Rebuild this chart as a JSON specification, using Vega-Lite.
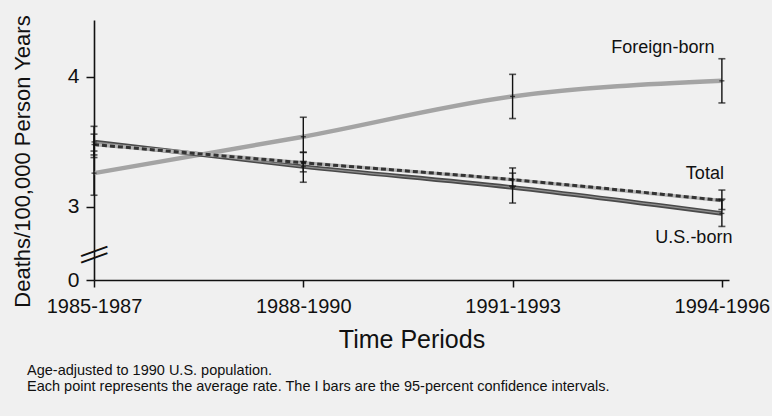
{
  "$schema": "https://vega.github.io/schema/vega-lite/v6.json",
  "width": 635,
  "height": 260,
  "autosize": "none",
  "padding": {"left": 94, "top": 20, "right": 43, "bottom": 136},
  "background": "#f0f0f0",
  "config": {
    "view": {"stroke": null},
    "font": "Liberation Sans",
    "axis": {"domainColor": "#111", "domainWidth": 1.6, "tickColor": "#111", "tickWidth": 1.5, "labelColor": "#111", "titleColor": "#111", "labelFont": "Liberation Sans", "titleFont": "Liberation Sans", "titleFontWeight": "normal", "grid": false}
  },
  "datasets": {
    "pts": [
      {"period": "1985-1987", "group": "Foreign-born", "rate": 3.26, "lo": 3.09, "hi": 3.43},
      {"period": "1988-1990", "group": "Foreign-born", "rate": 3.54, "lo": 3.42, "hi": 3.69},
      {"period": "1991-1993", "group": "Foreign-born", "rate": 3.85, "lo": 3.68, "hi": 4.02},
      {"period": "1994-1996", "group": "Foreign-born", "rate": 3.97, "lo": 3.80, "hi": 4.14},
      {"period": "1985-1987", "group": "U.S.-born", "rate": 3.50, "lo": 3.38, "hi": 3.62},
      {"period": "1988-1990", "group": "U.S.-born", "rate": 3.31, "lo": 3.19, "hi": 3.42},
      {"period": "1991-1993", "group": "U.S.-born", "rate": 3.15, "lo": 3.03, "hi": 3.30},
      {"period": "1994-1996", "group": "U.S.-born", "rate": 2.95, "lo": 2.85, "hi": 3.06},
      {"period": "1985-1987", "group": "Total", "rate": 3.48, "lo": 3.40, "hi": 3.56},
      {"period": "1988-1990", "group": "Total", "rate": 3.34, "lo": 3.27, "hi": 3.35},
      {"period": "1991-1993", "group": "Total", "rate": 3.21, "lo": 3.16, "hi": 3.26},
      {"period": "1994-1996", "group": "Total", "rate": 3.05, "lo": 2.98, "hi": 3.13}
    ],
    "labels": [
      {"period": "1994-1996", "label": "Foreign-born", "rate": 4.22, "shift": -59},
      {"period": "1994-1996", "label": "Total", "rate": 3.25, "shift": -17},
      {"period": "1994-1996", "label": "U.S.-born", "rate": 2.76, "shift": -28}
    ],
    "brk": [
      {"period": "1985-1987", "rate": 2.665},
      {"period": "1985-1987", "rate": 2.615}
    ]
  },
  "title": {
    "text": ["Age-adjusted to 1990 U.S. population.", "Each point represents the average rate. The I bars are the 95-percent confidence intervals."],
    "orient": "bottom",
    "anchor": "start",
    "frame": "group",
    "fontSize": 14.5,
    "fontWeight": "normal",
    "font": "Liberation Sans",
    "color": "#111",
    "lineHeight": 16,
    "dx": -67,
    "offset": 12
  },
  "encoding": {
    "x": {
      "field": "period",
      "type": "ordinal",
      "scale": {"type": "point", "padding": 0.017, "align": 0},
      "axis": {"title": "Time Periods", "labelAngle": 0, "labelFontSize": 20, "titleFontSize": 25, "tickSize": 7, "labelPadding": 9, "titlePadding": 11}
    }
  },
  "layer": [
    {
      "data": {"name": "pts"},
      "transform": [{"filter": "datum.group == 'Foreign-born'"}],
      "mark": {"type": "line", "color": "#a4a4a4", "strokeWidth": 4.5, "interpolate": "monotone"},
      "encoding": {
        "y": {
          "field": "rate", "type": "quantitative",
          "scale": {"domain": [2.438, 4.438], "nice": false, "zero": false},
          "axis": {"title": "Deaths/100,000 Person Years", "values": [2.438, 3, 4], "labelExpr": "datum.value < 2.5 ? '0' : format(datum.value, 'd')", "labelFontSize": 21, "titleFontSize": 22, "tickSize": 8, "labelPadding": 7, "titleX": -72, "titleY": 141, "titleAlign": "center", "titleBaseline": "middle", "titleAngle": 270}
        }
      }
    },
    {
      "data": {"name": "pts"},
      "transform": [{"filter": "datum.group == 'U.S.-born'"}],
      "mark": {"type": "line", "color": "#4a4a4a", "strokeWidth": 4.5, "interpolate": "monotone"},
      "encoding": {"y": {"field": "rate", "type": "quantitative"}}
    },
    {
      "data": {"name": "pts"},
      "transform": [{"filter": "datum.group == 'U.S.-born'"}],
      "mark": {"type": "line", "color": "#8f8f8f", "strokeWidth": 1.2, "interpolate": "monotone"},
      "encoding": {"y": {"field": "rate", "type": "quantitative"}}
    },
    {
      "data": {"name": "pts"},
      "transform": [{"filter": "datum.group == 'Total'"}],
      "mark": {"type": "line", "color": "#b5b5b5", "strokeWidth": 3.5, "interpolate": "monotone"},
      "encoding": {"y": {"field": "rate", "type": "quantitative"}}
    },
    {
      "data": {"name": "pts"},
      "transform": [{"filter": "datum.group == 'Total'"}],
      "mark": {"type": "line", "color": "#333", "strokeWidth": 3, "strokeDash": [5, 3], "interpolate": "monotone"},
      "encoding": {"y": {"field": "rate", "type": "quantitative"}}
    },
    {
      "data": {"name": "pts"},
      "mark": {"type": "rule", "color": "#111", "strokeWidth": 1.4},
      "encoding": {"y": {"field": "lo", "type": "quantitative"}, "y2": {"field": "hi"}}
    },
    {
      "data": {"name": "pts"},
      "mark": {"type": "tick", "color": "#111", "size": 7, "thickness": 1.6},
      "encoding": {"y": {"field": "lo", "type": "quantitative"}}
    },
    {
      "data": {"name": "pts"},
      "mark": {"type": "tick", "color": "#111", "size": 7, "thickness": 1.6},
      "encoding": {"y": {"field": "hi", "type": "quantitative"}}
    },
    {
      "data": {"name": "pts"},
      "mark": {"type": "tick", "color": "#111", "size": 5, "thickness": 1.4},
      "encoding": {"y": {"field": "rate", "type": "quantitative"}}
    },
    {
      "data": {"name": "labels"},
      "mark": {"type": "text", "fontSize": 18, "color": "#111", "align": "center", "baseline": "middle"},
      "encoding": {
        "y": {"field": "rate", "type": "quantitative"},
        "text": {"field": "label"},
        "xOffset": {"field": "shift", "type": "quantitative", "scale": null}
      }
    },
    {
      "data": {"name": "brk"},
      "mark": {"type": "text", "text": "—", "fontSize": 28, "color": "#111", "angle": -20, "align": "center", "baseline": "middle"},
      "encoding": {"y": {"field": "rate", "type": "quantitative"}}
    }
  ]
}
